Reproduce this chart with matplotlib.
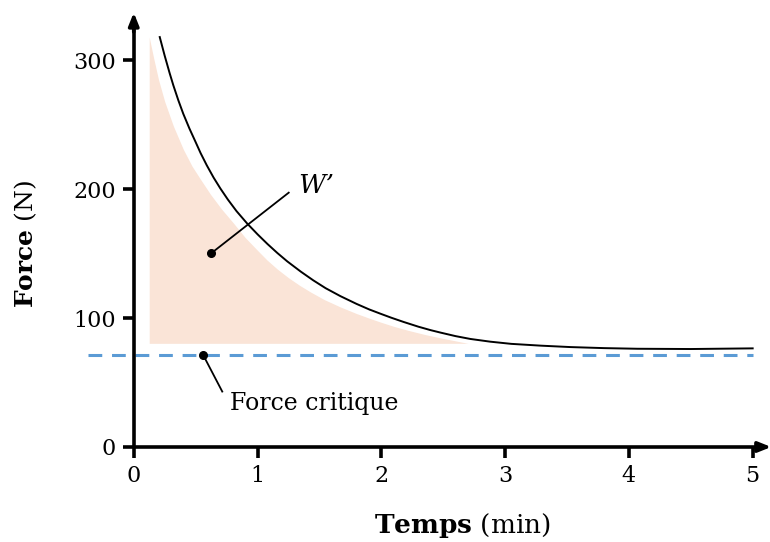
import matplotlib
matplotlib.use("Agg")
import matplotlib.pyplot as plt

# Data
curve_t = [0.21, 0.25, 0.29, 0.32, 0.36, 0.40, 0.45, 0.50, 0.54, 0.59, 0.645, 0.70, 0.76, 0.83,
           0.915, 1.00, 1.08, 1.16, 1.24, 1.35, 1.45, 1.55, 1.67, 1.80, 1.90, 1.99, 2.08, 2.18,
           2.30, 2.40, 2.48, 2.60, 2.72, 2.88, 3.05, 3.29, 3.53, 3.80, 4.07, 4.50, 5.00]
curve_f = [318, 303.5, 290, 280.5, 269, 258.5, 247, 236.5, 228, 218.5, 209, 200.5, 192, 183,
           173.5, 165, 157.5, 150.5, 144, 136, 129.3, 123.2, 117, 111, 106.8, 103.5, 100.3, 97,
           93.3, 90.6, 88.7, 86, 83.8, 81.7, 80, 78.6, 77.5, 76.7, 76.2, 76.0, 76.5]

shade_t = [0.125, 0.16, 0.20, 0.25, 0.32, 0.40, 0.47, 0.537, 0.62, 0.71, 0.807, 0.90, 1.00,
           1.077, 1.16, 1.25, 1.34, 1.427, 1.54, 1.67, 1.80, 1.90, 1.99, 2.10, 2.22, 2.35,
           2.48, 2.58, 2.70]
shade_f = [318, 302, 285, 268, 249, 231, 218, 208, 196, 184.5, 173.5, 162.5, 152.5,
           145, 138, 131.3, 125.4, 120.3, 114.3, 108.6, 103.5, 100, 97, 93.6, 90.4, 87.3,
           84.6, 82.7, 80.4]
shade_base = 80.4

critical_force = 71.5
cf_t = [-0.37, 5.0]

x_ticks = [0, 1, 2, 3, 4, 5]
y_ticks = [0, 100, 200, 300]

plt.rcParams['font.family'] = ['DejaVu Serif']
plt.rcParams['mathtext.fontset'] = 'custom'
plt.rcParams['mathtext.rm'] = 'DejaVu Serif'
plt.rcParams['mathtext.bf'] = 'DejaVu Serif:bold'
plt.rcParams['mathtext.it'] = 'DejaVu Serif:italic'

fig = plt.figure(figsize=(7.7, 5.42), dpi=100)
ax = fig.add_axes([0.1094, 0.1753, 0.8906, 0.8015])
ax.set_xlim(-0.4, 5.14)
ax.set_ylim(0, 337)

ax.fill_between(shade_t, shade_f, shade_base, color='#fae4d7', linewidth=0, zorder=1)
ax.plot(curve_t, curve_f, color='black', lw=1.4, zorder=3, solid_joinstyle='round')
ax.plot(cf_t, [critical_force, critical_force], color='#5b9bd5', lw=2.2,
        dashes=(4.5, 3.2), zorder=2, clip_on=False)

# axes lines
for s in ['top', 'right']:
    ax.spines[s].set_visible(False)
ax.spines['left'].set_position(('data', 0))
ax.spines['bottom'].set_position(('data', 0))
ax.spines['left'].set_bounds(0, 325)
ax.spines['bottom'].set_bounds(0, 5.07)
for s in ['left', 'bottom']:
    ax.spines[s].set_linewidth(2.6)
    ax.spines[s].set_capstyle('butt')
ax.annotate('', xy=(0, 337), xytext=(0, 322),
            arrowprops=dict(arrowstyle='-|>,head_width=0.3,head_length=0.75', color='black', lw=2.6,
                            shrinkA=0, shrinkB=0), annotation_clip=False)
ax.annotate('', xy=(5.15, 0), xytext=(5.05, 0),
            arrowprops=dict(arrowstyle='-|>,head_width=0.3,head_length=0.75', color='black', lw=2.6,
                            shrinkA=0, shrinkB=0), annotation_clip=False)

ax.set_xticks(x_ticks)
ax.set_yticks(y_ticks)
ax.set_xticklabels([str(v) for v in x_ticks])
ax.set_yticklabels([str(v) for v in y_ticks])
ax.tick_params(axis='both', direction='out', length=8, width=2.6, labelsize=16, color='black')
ax.tick_params(axis='x', pad=5)
ax.tick_params(axis='y', pad=5)

fig.text(0.600, 0.031, r'$\mathbf{Temps}$ (min)', ha='center', va='center', fontsize=19)
fig.text(0.033, 0.55, r'$\mathbf{Force}$ (N)', ha='center', va='center', fontsize=18, rotation=90)

# annotations
ax.plot([0.626], [150.3], 'o', color='black', ms=5.5, zorder=4)
ax.plot([0.626, 1.252], [150.3, 197.3], color='black', lw=1.3, zorder=4)
ax.text(1.33, 203, "W\u2019", fontsize=19, style='italic', ha='left', va='center')

ax.plot([0.56], [critical_force], 'o', color='black', ms=5.5, zorder=4)
ax.plot([0.56, 0.715], [critical_force, 43], color='black', lw=1.3, zorder=4)
ax.text(0.78, 34, "Force critique", fontsize=17, ha='left', va='center')

fig.savefig('out.png', dpi=100)
